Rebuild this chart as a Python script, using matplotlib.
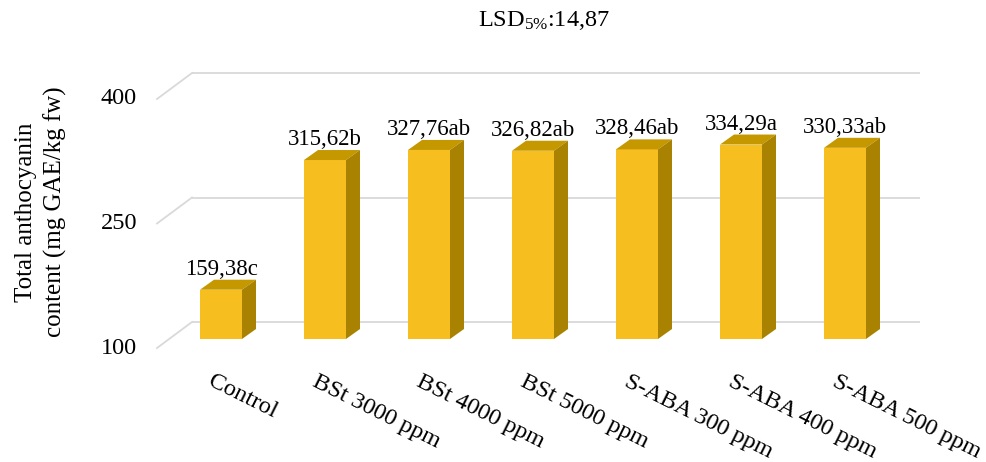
import numpy as np
import matplotlib.pyplot as plt
from matplotlib.patches import Polygon
import matplotlib.transforms as mtransforms

categories = ['Control', 'BSt 3000 ppm', 'BSt 4000 ppm', 'BSt 5000 ppm',
              'S-ABA 300 ppm', 'S-ABA 400 ppm', 'S-ABA 500 ppm']
values = [159.38, 315.62, 327.76, 326.82, 328.46, 334.29, 330.33]
letters = ['c', 'b', 'ab', 'ab', 'ab', 'a', 'ab']
yticks = [100, 250, 400]
lsd = '14,87'

plt.rcParams['font.family'] = 'Liberation Serif'
plt.rcParams['mathtext.fontset'] = 'custom'
plt.rcParams['mathtext.rm'] = 'Liberation Serif'
plt.rcParams['mathtext.default'] = 'regular'

front_c = '#F6BE1F'
top_c = '#C59800'
side_c = '#A88200'
grid_c = '#D9D9D9'
fs = 17.5
fs_val = 16.5

fig = plt.figure(figsize=(9.87, 4.62), dpi=100)
W, H = 987, 462
ax = fig.add_axes([169 / W, (H - 339) / H, 728 / W, 265.6 / H])
ax.set_xlim(-0.5, len(values) - 0.5)
ax.set_ylim(100, 420)
ax.axis('off')

# pixels per data unit, used to turn the pseudo-3D offsets into data units
px_x = 728 / 7
px_y = 265.6 / 320


def off(dx, dy):
    # dx, dy in pixels (dy positive = down on the image)
    return dx / px_x, -dy / px_y


bx, by = off(23, -17)   # back wall
fx, fy = off(-12, 9)    # front edge of the floor
ddx, ddy = off(14, -10)  # bar depth
x0, x1 = ax.get_xlim()

# back wall gridlines and the left side wall
for t in yticks:
    ax.plot([x0 + bx, x1 + bx], [t + by, t + by], color=grid_c, lw=1.3,
            zorder=0, clip_on=False, solid_capstyle='butt')
    ax.plot([x0 + fx, x0 + bx], [t + fy, t + by], color=grid_c, lw=1.3,
            zorder=0, clip_on=False)
    tx, _ = off(-20, 0)
    ax.text(x0 + fx + tx, t + fy, str(t), ha='right', va='center',
            fontsize=fs, clip_on=False)

x = np.arange(len(values))
w = 42 / px_x
vals = np.array(values)
ax.bar(x, vals - 100, bottom=100, width=w, color=front_c, zorder=2,
       clip_on=False)

lab_tr = mtransforms.offset_copy(ax.transData, fig=fig, x=0, y=5, units='dots')
for i, v in enumerate(values):
    l, r = i - w / 2, i + w / 2
    ax.add_patch(Polygon([(l, v), (r, v), (r + ddx, v + ddy), (l + ddx, v + ddy)],
                         closed=True, facecolor=top_c, edgecolor='none',
                         zorder=2, clip_on=False))
    ax.add_patch(Polygon([(r, 100), (r, v), (r + ddx, v + ddy), (r + ddx, 100 + ddy)],
                         closed=True, facecolor=side_c, edgecolor='none',
                         zorder=2, clip_on=False))
    ax.text(i, v + ddy, f'{v:.2f}'.replace('.', ',') + letters[i], ha='center',
            va='baseline', fontsize=fs_val, transform=lab_tr, clip_on=False)

cat_tr = mtransforms.offset_copy(ax.transData, fig=fig, x=5, y=-23, units='dots')
for i, c in enumerate(categories):
    ax.text(i + fx, 100 + fy, c, ha='left', va='top', rotation=-26.5,
            rotation_mode='anchor', fontsize=fs, transform=cat_tr, clip_on=False)

fig.text(544 / W, 1 - 20 / H, r'LSD$_{5\%}$:' + lsd, ha='center', va='center',
         fontsize=fs)
fig.text(41 / W, 1 - 212 / H, 'Total anthocyanin\ncontent (mg GAE/kg fw)',
         rotation=90, ha='center', va='center', multialignment='center',
         linespacing=1.4, fontsize=18)

fig.savefig('out.png', dpi=100)
